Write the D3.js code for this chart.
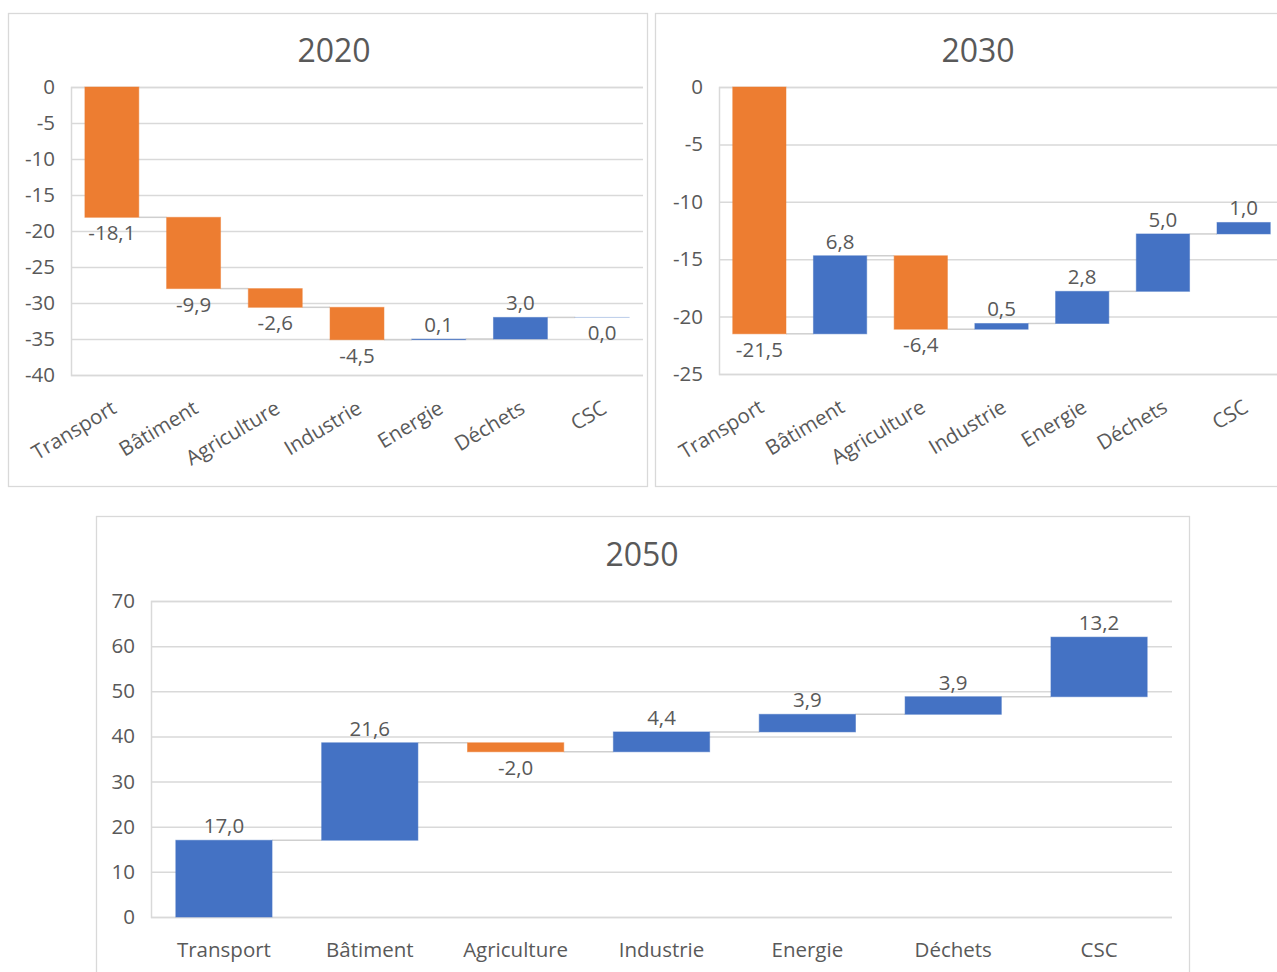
<!DOCTYPE html>
<html><head><meta charset="utf-8">
<script src="https://cdn.jsdelivr.net/npm/d3@7"></script>
<style>
html,body{margin:0;padding:0;background:#fff;overflow:hidden;}
text{font-family:"Open Sans","Noto Sans",sans-serif;fill:#595959;}
</style></head>
<body>
<svg id="c" width="1277" height="972"></svg>
<script>
const categories = ["Transport","Bâtiment","Agriculture","Industrie","Energie","Déchets","CSC"];
const values2020 = [-18.1,-9.9,-2.6,-4.5,0.1,3.0,0.0];
const values2030 = [-21.5,6.8,-6.4,0.5,2.8,5.0,1.0];
const values2050 = [17.0,21.6,-2.0,4.4,3.9,3.9,13.2];
const ticks2020 = [0,-5,-10,-15,-20,-25,-30,-35,-40];
const ticks2030 = [0,-5,-10,-15,-20,-25];
const ticks2050 = [0,10,20,30,40,50,60,70];

const ORANGE = "#ED7D31", BLUE = "#4472C4", GRID = "#d9d9d9", CONN = "#cfcfcf";
const FS = 20.5;
const svg = d3.select("#c");
const fmt = v => v.toFixed(1).replace(".", ",");

function chart(o){
  const g = svg.append("g");
  g.append("rect").attr("x",o.box[0]+0.5).attr("y",o.box[1]+0.5)
   .attr("width",o.box[2]-o.box[0]).attr("height",o.box[3]-o.box[1])
   .attr("fill","#fff").attr("stroke",GRID).attr("stroke-width",1.3);
  g.append("text").attr("x",o.titleX).attr("y",o.titleY).attr("text-anchor","middle")
   .attr("font-size",32).text(o.title);
  const y = d3.scaleLinear().domain(o.ydom).range([o.bottom,o.top]);
  const x = d3.scaleBand().domain(categories).range([o.left,o.right]).paddingInner(0.34).paddingOuter(0.17);
  const ax = d3.axisLeft(y).tickValues(o.ticks).tickSize(-(o.gridRight-o.left)).tickPadding(16).tickFormat(d=>d);
  const ag = g.append("g").attr("transform",`translate(${o.left},0)`).call(ax);
  ag.select(".domain").attr("stroke",GRID).attr("stroke-width",1.5);
  ag.selectAll(".tick line").attr("stroke",GRID).attr("stroke-width",1.5);
  ag.selectAll(".tick text").attr("font-size",FS).attr("fill","#595959")
    .attr("font-family",'"Open Sans","Noto Sans",sans-serif');
  let run = 0;
  const bars = o.values.map((v,i)=>{const s=run; run+=v; return {c:categories[i],v,s,e:run};});
  bars.slice(0,-1).forEach((b,i)=>{
    const nb = bars[i+1];
    g.append("line").attr("x1",x(b.c)+x.bandwidth()).attr("x2",x(nb.c))
      .attr("y1",y(b.e)).attr("y2",y(b.e)).attr("stroke",CONN).attr("stroke-width",1.5);
  });
  g.selectAll("rect.bar").data(bars).enter().append("rect").attr("class","bar")
    .attr("x",d=>x(d.c)).attr("width",x.bandwidth())
    .attr("y",d=>Math.min(y(d.s),y(d.e)))
    .attr("height",d=>Math.max(0.01,Math.abs(y(d.s)-y(d.e))))
    .attr("fill",d=>d.v<0?ORANGE:BLUE)
    .attr("stroke",d=>d.v<0?ORANGE:BLUE)
    .attr("stroke-opacity",d=>Math.abs(y(d.s)-y(d.e))<2?0.35:0.5).attr("stroke-width",1);
  g.selectAll("text.lbl").data(bars).enter().append("text").attr("class","lbl")
    .attr("x",d=>x(d.c)+x.bandwidth()/2)
    .attr("y",d=>d.v>0? Math.min(y(d.s),y(d.e))-7 : Math.max(y(d.s),y(d.e))+23)
    .attr("text-anchor","middle").attr("font-size",FS).text(d=>fmt(d.v));
  if(o.rotate){
    g.selectAll("text.cat").data(categories).enter().append("text").attr("class","cat")
      .attr("transform",d=>`translate(${x(d)+x.bandwidth()/2+6},${o.bottom+37}) rotate(-31)`)
      .attr("text-anchor","end").attr("font-size",FS).text(d=>d);
  } else {
    g.selectAll("text.cat").data(categories).enter().append("text").attr("class","cat")
      .attr("x",d=>x(d)+x.bandwidth()/2).attr("y",o.bottom+40)
      .attr("text-anchor","middle").attr("font-size",FS).text(d=>d);
  }
}

chart({box:[8,13,647,486],title:"2020",titleX:334,titleY:62,values:values2020,ticks:ticks2020,
  ydom:[-40,0],top:87,bottom:375,left:71,right:643,gridRight:643,rotate:true});
chart({box:[655,13,1290,486],title:"2030",titleX:978,titleY:62,values:values2030,ticks:ticks2030,
  ydom:[-25,0],top:87,bottom:374,left:719,right:1284,gridRight:1290,rotate:true});
chart({box:[96,516,1189,990],title:"2050",titleX:642,titleY:566,values:values2050,ticks:ticks2050,
  ydom:[0,70],top:601,bottom:917,left:151,right:1172,gridRight:1172,rotate:false});
</script>
</body></html>
